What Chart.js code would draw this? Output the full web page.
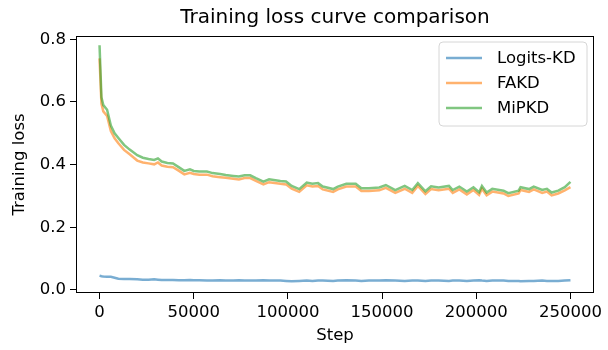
<!DOCTYPE html>
<html>
<head>
<meta charset="utf-8">
<script src="https://cdn.jsdelivr.net/npm/chart.js@4"></script>
<style>
  html, body { margin: 0; padding: 0; background: #fff; }
  #chart { display: block; }
</style>
</head>
<body>
<canvas id="chart" width="608" height="350"></canvas>
<script>
// training steps (x values)
const steps = [0, 1000, 2000, 4000, 6000, 8000, 10000, 13000, 16000, 20000,
    23000, 26000, 29000, 31000, 33000, 36000, 39000, 42000, 45000, 48000,
    50000, 53000, 57000, 60000, 64000, 67000, 71000, 74000, 77000, 80000,
    83000, 87000, 90000, 96000, 99000, 102000, 106000, 110000, 113000, 116000,
    118500, 124000, 126500, 131000, 136000, 139000, 143000, 148500, 152000, 157000,
    162000, 166000, 169000, 173000, 176000, 180000, 185500, 187500, 191000, 195000,
    198500, 201500, 203000, 205500, 208500, 214500, 217000, 222500, 223500, 228000,
    230500, 235000, 237500, 240000, 243500, 247000, 250000];

const logitsKD = [0.046, 0.044, 0.043, 0.042, 0.042, 0.039, 0.036, 0.035, 0.035, 0.034,
    0.033, 0.033, 0.034, 0.033, 0.032, 0.032, 0.032, 0.031, 0.031, 0.032,
    0.031, 0.031, 0.030, 0.030, 0.031, 0.030, 0.030, 0.031, 0.030, 0.030,
    0.030, 0.031, 0.030, 0.030, 0.029, 0.028, 0.029, 0.030, 0.029, 0.030,
    0.030, 0.029, 0.030, 0.031, 0.030, 0.029, 0.030, 0.030, 0.031, 0.030,
    0.029, 0.030, 0.030, 0.029, 0.030, 0.030, 0.029, 0.030, 0.030, 0.029,
    0.030, 0.031, 0.030, 0.029, 0.030, 0.030, 0.029, 0.029, 0.028, 0.029,
    0.029, 0.030, 0.029, 0.029, 0.029, 0.030, 0.031];

const fakd = [0.739, 0.595, 0.570, 0.555, 0.507, 0.484, 0.468, 0.447, 0.433, 0.413,
    0.407, 0.404, 0.401, 0.407, 0.397, 0.393, 0.392, 0.381, 0.369, 0.374,
    0.370, 0.368, 0.368, 0.363, 0.360, 0.358, 0.355, 0.353, 0.357, 0.357,
    0.348, 0.337, 0.344, 0.339, 0.337, 0.323, 0.313, 0.334, 0.330, 0.332,
    0.321, 0.313, 0.321, 0.330, 0.330, 0.316, 0.316, 0.318, 0.326, 0.310,
    0.323, 0.310, 0.332, 0.306, 0.322, 0.318, 0.323, 0.310, 0.321, 0.305,
    0.319, 0.303, 0.323, 0.302, 0.314, 0.308, 0.300, 0.308, 0.319, 0.313,
    0.321, 0.310, 0.314, 0.302, 0.308, 0.318, 0.328];

const mipkd = [0.781, 0.615, 0.590, 0.575, 0.525, 0.500, 0.485, 0.463, 0.448, 0.430,
    0.422, 0.418, 0.415, 0.420, 0.410, 0.405, 0.404, 0.392, 0.380, 0.385,
    0.380, 0.378, 0.378, 0.373, 0.370, 0.367, 0.364, 0.362, 0.366, 0.366,
    0.357, 0.346, 0.353, 0.348, 0.346, 0.332, 0.322, 0.343, 0.339, 0.341,
    0.330, 0.322, 0.330, 0.339, 0.339, 0.325, 0.325, 0.327, 0.335, 0.319,
    0.332, 0.319, 0.341, 0.315, 0.331, 0.327, 0.332, 0.319, 0.330, 0.314,
    0.328, 0.312, 0.332, 0.311, 0.323, 0.317, 0.309, 0.317, 0.328, 0.322,
    0.330, 0.319, 0.323, 0.311, 0.317, 0.328, 0.345];

const seriesNames = ['Logits-KD', 'FAKD', 'MiPKD'];
const seriesColors = ['rgba(31, 119, 180, 0.6)', 'rgba(255, 127, 14, 0.6)', 'rgba(44, 160, 44, 0.6)'];

const xTicks = [0, 50000, 100000, 150000, 200000, 250000];
const yTicks = [0.0, 0.2, 0.4, 0.6, 0.8];

const FONT = '"DejaVu Sans", sans-serif';

const toPoints = (vals) => steps.map((s, i) => ({ x: s, y: vals[i] }));

// title, axis labels, box and legend (matplotlib look)
const decorations = {
    id: 'decorations',
    afterDraw(chart) {
        const { ctx, chartArea: a } = chart;
        ctx.save();
        ctx.strokeStyle = '#000';
        ctx.lineWidth = 1;
        ctx.strokeRect(a.left + 0.5, a.top + 0.5, a.right - a.left - 1, a.bottom - a.top - 1);

        ctx.fillStyle = '#000';
        ctx.textAlign = 'center';
        ctx.textBaseline = 'middle';
        ctx.font = '20px ' + FONT;
        ctx.fillText('Training loss curve comparison', (a.left + a.right) / 2, 18);

        ctx.font = '16.5px ' + FONT;
        ctx.fillText('Step', (a.left + a.right) / 2, 336);

        ctx.translate(20, (a.top + a.bottom) / 2);
        ctx.rotate(-Math.PI / 2);
        ctx.fillText('Training loss', 0, 0);
        ctx.restore();

        // legend
        ctx.save();
        const lx = 439, ly = 42, lw = 148, lh = 84, r = 4;
        ctx.beginPath();
        ctx.moveTo(lx + r, ly);
        ctx.arcTo(lx + lw, ly, lx + lw, ly + lh, r);
        ctx.arcTo(lx + lw, ly + lh, lx, ly + lh, r);
        ctx.arcTo(lx, ly + lh, lx, ly, r);
        ctx.arcTo(lx, ly, lx + lw, ly, r);
        ctx.closePath();
        ctx.fillStyle = 'rgba(255, 255, 255, 0.8)';
        ctx.fill();
        ctx.strokeStyle = '#d6d6d6';
        ctx.lineWidth = 1;
        ctx.stroke();

        ctx.font = '16.5px ' + FONT;
        ctx.textAlign = 'left';
        ctx.textBaseline = 'middle';
        seriesNames.forEach((name, i) => {
            const y = 58 + i * 25;
            ctx.strokeStyle = seriesColors[i];
            ctx.lineWidth = 2.5;
            ctx.beginPath();
            ctx.moveTo(446, y);
            ctx.lineTo(482, y);
            ctx.stroke();
            ctx.fillStyle = '#000';
            ctx.fillText(name, 497, y + 1);
        });
        ctx.restore();
    }
};

const ctx = document.getElementById('chart').getContext('2d');
new Chart(ctx, {
    type: 'line',
    data: {
        datasets: [logitsKD, fakd, mipkd].map((vals, i) => ({
            label: seriesNames[i],
            data: toPoints(vals),
            borderColor: seriesColors[i],
            borderWidth: 2.5,
            pointRadius: 0,
            tension: 0,
            fill: false,
            order: 2 - i
        }))
    },
    options: {
        responsive: false,
        devicePixelRatio: 1,
        animation: false,
        layout: { padding: { top: 36, right: 14, left: 0, bottom: 0 } },
        plugins: {
            legend: { display: false },
            tooltip: { enabled: false }
        },
        scales: {
            x: {
                type: 'linear',
                min: -12500,
                max: 262500,
                afterFit: (scale) => { scale.height = 57; },
                afterBuildTicks: (scale) => { scale.ticks = xTicks.map(v => ({ value: v })); },
                grid: { drawOnChartArea: false, tickLength: 6, color: '#000', lineWidth: 1 },
                border: { display: false },
                ticks: {
                    color: '#000',
                    padding: 4,
                    maxRotation: 0,
                    font: { family: FONT, size: 16.5 },
                    callback: (v) => String(v)
                }
            },
            y: {
                type: 'linear',
                min: -0.0096,
                max: 0.8105,
                afterFit: (scale) => { scale.width = 76; },
                afterBuildTicks: (scale) => { scale.ticks = yTicks.map(v => ({ value: v })); },
                grid: { drawOnChartArea: false, tickLength: 6, color: '#000', lineWidth: 1 },
                border: { display: false },
                ticks: {
                    color: '#000',
                    padding: 4,
                    font: { family: FONT, size: 16.5 },
                    callback: (v) => v.toFixed(1)
                }
            }
        }
    },
    plugins: [decorations]
});
</script>
</body>
</html>
